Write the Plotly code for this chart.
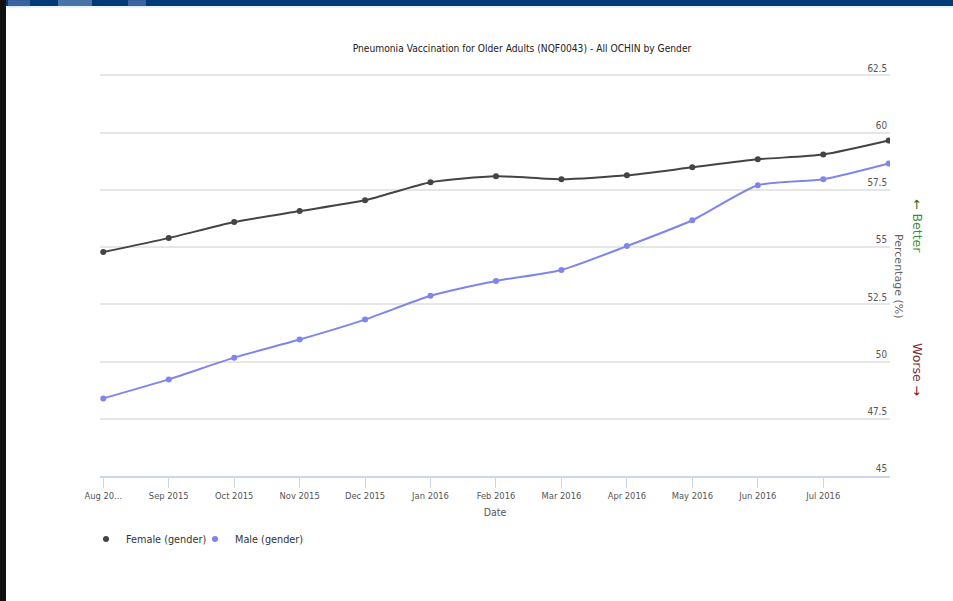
import plotly.graph_objects as go

# Monthly measurement dates and tick labels
months = ["Aug 2015", "Sep 2015", "Oct 2015", "Nov 2015", "Dec 2015", "Jan 2016",
          "Feb 2016", "Mar 2016", "Apr 2016", "May 2016", "Jun 2016", "Jul 2016", "Aug 2016"]
tick_labels = ["Aug 20...", "Sep 2015", "Oct 2015", "Nov 2015", "Dec 2015", "Jan 2016",
               "Feb 2016", "Mar 2016", "Apr 2016", "May 2016", "Jun 2016", "Jul 2016"]

# Percentage vaccinated, by gender
female = [54.78, 55.39, 56.09, 56.57, 57.04, 57.83, 58.09, 57.96, 58.13, 58.48, 58.83, 59.04, 59.65]
male = [48.39, 49.22, 50.17, 50.96, 51.83, 52.87, 53.52, 54.00, 55.04, 56.17, 57.70, 57.96, 58.65]

y_ticks = [45, 47.5, 50, 52.5, 55, 57.5, 60, 62.5]

FONT = "DejaVu Sans Condensed, Liberation Sans Narrow, Roboto, sans-serif"

# plot area in pixels (953 x 601 page); y range extends a little past 62.5
W, H = 953, 601
L, R, B = 100, 890, 476
Y_MIN, Y_MAX = 45, 63.3
PX_PER_UNIT = 22.9
T = B - (Y_MAX - Y_MIN) * PX_PER_UNIT


def px(x):
    return (x - L) / (R - L)


def py(y):
    return (B - y) / (B - T)


idx = list(range(len(months)))
series = [("Female (gender)", female, "#434348"), ("Male (gender)", male, "#8085e9")]

fig = go.Figure()
for name, vals, color in series:
    fig.add_trace(go.Scatter(
        x=idx, y=vals, mode="lines", showlegend=False, hoverinfo="skip",
        line=dict(color=color, width=2, shape="spline", smoothing=0.6),
    ))
for name, vals, color in series:
    fig.add_trace(go.Scatter(
        x=idx, y=vals, name=name, mode="markers",
        marker=dict(color=color, size=6, symbol="circle"),
        text=months, hovertemplate="%{text}: %{y}%<extra>" + name + "</extra>",
    ))

fig.update_layout(
    width=W, height=H,
    margin=dict(l=L, r=W - R, t=T, b=H - B),
    paper_bgcolor="white", plot_bgcolor="white",
    font=dict(family=FONT, color="#666666"),
    title=dict(text="Pneumonia Vaccination for Older Adults (NQF0043) - All OCHIN by Gender",
               x=522 / W, xanchor="center", y=1 - 48 / H, yanchor="middle",
               font=dict(family=FONT, size=10.2, color="#222222")),
    showlegend=True,
    legend=dict(orientation="h", x=px(86), xanchor="left", y=py(539), yanchor="middle",
                font=dict(family=FONT, size=10.8, color="#333333"),
                itemsizing="trace", itemwidth=30, entrywidth=64, entrywidthmode="pixels",
                tracegroupgap=0),
    xaxis=dict(
        range=[-0.05, 12.02], tickmode="array", tickvals=idx[:12], ticktext=tick_labels,
        showgrid=False, zeroline=False,
        showline=True, linecolor="#ccd6eb", linewidth=2,
        ticks="outside", ticklen=10, tickcolor="#ccd6eb", tickwidth=1,
        tickfont=dict(family=FONT, size=9.3, color="#555555"),
        title=dict(text="Date", font=dict(family=FONT, size=10.5, color="#555555"), standoff=8),
    ),
    yaxis=dict(
        range=[Y_MIN, Y_MAX], side="right", tickmode="array", tickvals=y_ticks,
        ticktext=[f"{v:g}" for v in y_ticks],
        ticklabelposition="inside", ticklabelshift=-7, ticklabelstandoff=0,
        showgrid=True, gridcolor="#e6e6e6", gridwidth=2,
        zeroline=False, showline=False, ticks="",
        tickfont=dict(family=FONT, size=9.8, color="#555555"),
    ),
)

annotations = [
    dict(text="Percentage (%)", x=px(899), y=py(276), textangle=90,
         font=dict(family="DejaVu Sans, sans-serif", size=11, color="#666666")),
    dict(text="<span style='color:#1e6b1e'>\u2190</span> Better", x=px(918), y=py(226), textangle=90,
         font=dict(family="DejaVu Sans, sans-serif", size=12.5, color="#3d8a3d")),
    dict(text="Worse <span style='color:#7a1414'>\u2192</span>", x=px(918), y=py(369), textangle=90,
         font=dict(family="DejaVu Sans, sans-serif", size=12.5, color="#7b3333")),
]
for a in annotations:
    a.update(xref="paper", yref="paper", showarrow=False, xanchor="center", yanchor="middle")
fig.update_layout(annotations=annotations)

# page frame: dark header band and black left edge
shapes = [
    dict(type="rect", x0=px(0), x1=px(W), y0=py(0), y1=py(6), fillcolor="#003a78", line_width=0),
    dict(type="rect", x0=px(0), x1=px(W), y0=py(6), y1=py(8), fillcolor="#e8f6fc", line_width=0),
    dict(type="rect", x0=px(8), x1=px(30), y0=py(0), y1=py(6), fillcolor="#3a64a0", line_width=0),
    dict(type="rect", x0=px(58), x1=px(92), y0=py(0), y1=py(6), fillcolor="#4a72aa", line_width=0),
    dict(type="rect", x0=px(128), x1=px(146), y0=py(0), y1=py(6), fillcolor="#3a64a0", line_width=0),
    dict(type="rect", x0=px(0), x1=px(6), y0=py(0), y1=py(H), fillcolor="#111111", line_width=0),
]
for s in shapes:
    s.update(xref="paper", yref="paper", layer="above")
fig.update_layout(shapes=shapes)

fig.write_html("out.html")
